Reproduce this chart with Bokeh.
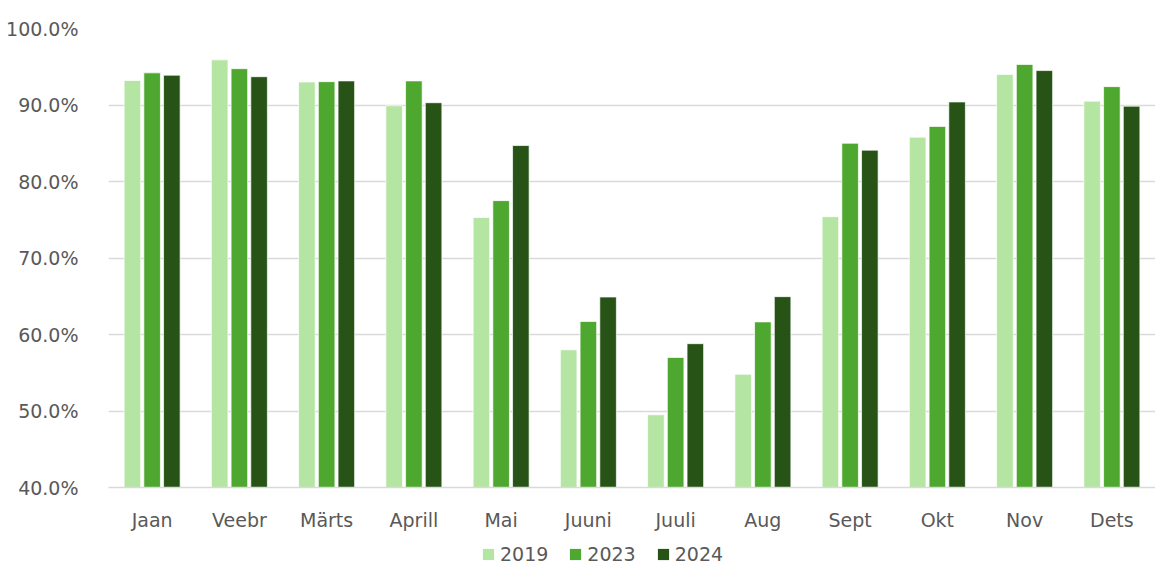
from bokeh.plotting import figure
from bokeh.layouts import column
from bokeh.models import (FactorRange, Range1d, PrintfTickFormatter, Legend, LegendItem,
                          ColumnDataSource, FixedTicker)
from bokeh.transform import dodge
from bokeh.embed import file_html
from bokeh.resources import INLINE

months = ["Jaan", "Veebr", "Märts", "Aprill", "Mai", "Juuni", "Juuli", "Aug", "Sept", "Okt", "Nov", "Dets"]
v2019 = [93.2, 95.9, 93.0, 89.9, 75.3, 58.0, 49.5, 54.8, 75.4, 85.8, 94.0, 90.5]
v2023 = [94.2, 94.75, 93.05, 93.15, 77.5, 61.7, 57.0, 61.65, 85.0, 87.2, 95.3, 92.4]
v2024 = [93.9, 93.7, 93.15, 90.3, 84.7, 64.9, 58.8, 64.95, 84.1, 90.4, 94.5, 89.85]
series = ["2019", "2023", "2024"]
colors = ["#b5e5a2", "#4ea72e", "#275317"]
y_ticks = [40, 50, 60, 70, 80, 90, 100]

src = ColumnDataSource(dict(m=months, a=v2019, b=v2023, c=v2024))

FONT = "DejaVu Sans"
FSIZE = "19px"
TXT = "#595959"

p = figure(width=1155, height=533, x_range=FactorRange(*months), y_range=Range1d(40, 100),
           output_backend="svg", toolbar_location=None,
           min_border_left=108, min_border_right=0, min_border_top=28, min_border_bottom=44)
p.outline_line_color = None

for key, name, col, off in zip(["a", "b", "c"], series, colors, [-0.226, 0.0, 0.226]):
    p.vbar(x=dodge("m", off, range=p.x_range), top=key, bottom=0, width=0.19, source=src,
           fill_color=col, line_color="white", line_width=1, line_alpha=0.7)

p.xgrid.grid_line_color = None
p.ygrid.grid_line_color = "#d9d9d9"
p.ygrid.grid_line_width = 1.5
p.yaxis.ticker = FixedTicker(ticks=y_ticks)
p.yaxis.formatter = PrintfTickFormatter(format="%.1f%%")
p.yaxis.axis_line_color = None
p.yaxis.major_tick_line_color = None
p.yaxis.minor_tick_line_color = None
p.yaxis.major_label_standoff = 24

p.xaxis.axis_line_color = "#d9d9d9"
p.xaxis.axis_line_width = 1.5
p.xaxis.major_tick_line_color = None
p.xaxis.minor_tick_line_color = None
p.xaxis.major_label_standoff = 15

for ax in (p.xaxis, p.yaxis):
    ax.major_label_text_font = FONT
    ax.major_label_text_font_size = FSIZE
    ax.major_label_text_color = TXT

# legend strip (frames are aligned with the main chart, so x offsets are relative to x=108)
lf = figure(width=1155, height=32, x_range=Range1d(0, 1), y_range=Range1d(0, 1),
            output_backend="svg", toolbar_location=None,
            min_border_left=0, min_border_right=0, min_border_top=0, min_border_bottom=0)
lf.axis.visible = False
lf.grid.visible = False
lf.outline_line_color = None
dummy = ColumnDataSource(dict(x=[-10], top=[-10]))
items = []
for name, col in zip(series, colors):
    r = lf.vbar(x="x", top="top", width=0.1, source=dummy, fill_color=col, line_color=None)
    items.append(LegendItem(label=name, renderers=[r]))
legend = Legend(items=items, orientation="horizontal", location=(373, 0),
                label_text_font=FONT, label_text_font_size=FSIZE, label_text_color=TXT,
                glyph_width=14, glyph_height=14, label_standoff=5, spacing=20,
                border_line_color=None, background_fill_alpha=0, margin=0, padding=0,
                label_height=22)
lf.add_layout(legend, "center")

layout = column(p, lf, spacing=0)
open("out.html", "w").write(file_html(layout, INLINE))
